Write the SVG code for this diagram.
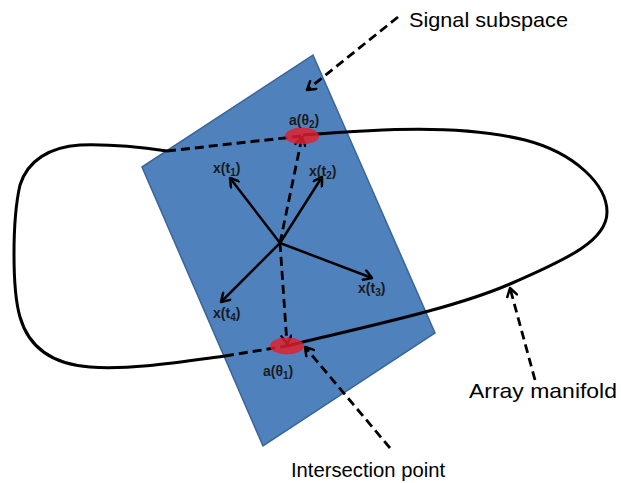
<svg xmlns="http://www.w3.org/2000/svg" width="621" height="483" viewBox="0 0 621 483">
  <style>
    .plane { fill: #4F81BD; stroke: #3B6597; stroke-width: 1.5; }
    .curve { fill: none; stroke: #000; stroke-width: 3; stroke-linejoin: round; }
    .curve-dash { fill: none; stroke: #000; stroke-width: 3; stroke-dasharray: 9 5; }
    .vec { fill: none; stroke: #000; stroke-width: 2.5; }
    .dash { fill: none; stroke: #000; stroke-width: 2.8; stroke-dasharray: 9 5; }
    .point { fill: #E41E2B; fill-opacity: 0.82; }
    .lbl { font-family: "Liberation Sans", Arial, sans-serif; font-weight: bold; font-size: 14px; fill: #1a1a1a; }
    .sub { font-size: 10px; }
    .big { font-family: "Liberation Sans", Arial, sans-serif; font-size: 21px; fill: #000; }
  </style>
  <defs>
    <marker id="arr" viewBox="0 0 12 12" markerWidth="12" markerHeight="12" refX="10" refY="6" orient="auto" markerUnits="userSpaceOnUse">
      <path d="M2,1 L10,6 L2,11" fill="none" stroke="#000" stroke-width="2.5" stroke-linecap="round" stroke-linejoin="round"/>
    </marker>
  </defs>

  <g id="signal-subspace">
    <polygon class="plane" points="142,167 313,55 435,333 263,446"/>
  </g>

  <g id="array-manifold">
    <path class="curve" d="M303,135 C380,129 460,124 525,140 C575,153 607,185 607,212 C607,240 570,258 510,284 C450,310 350,330 287,346"/>
    <path class="curve" d="M225,356 C180,362 130,370 90,367 C50,364 28,345 20,317 C12,290 12,220 20,185 C28,160 50,147 80,145 C110,144 140,147 167,151"/>
    <path class="curve-dash" d="M167,151 L302,136"/>
    <path class="curve-dash" d="M225,356 L287,346"/>
  </g>

  <g id="connectors">
    <line class="vec" x1="280" y1="243" x2="230" y2="178" marker-end="url(#arr)"/>
    <line class="vec" x1="280" y1="243" x2="322" y2="177" marker-end="url(#arr)"/>
    <line class="vec" x1="280" y1="243" x2="372" y2="278" marker-end="url(#arr)"/>
    <line class="vec" x1="280" y1="243" x2="221" y2="302" marker-end="url(#arr)"/>
    <line class="dash" x1="280" y1="243" x2="302" y2="137" marker-end="url(#arr)"/>
    <line class="dash" x1="280" y1="243" x2="287" y2="344" marker-end="url(#arr)"/>
    <line class="dash" x1="398" y1="17" x2="307" y2="90" marker-end="url(#arr)"/>
    <line class="dash" x1="535" y1="380" x2="510" y2="288" marker-end="url(#arr)"/>
    <line class="dash" x1="390" y1="448" x2="305" y2="347" marker-end="url(#arr)"/>
  </g>

  <g id="point-theta2">
    <ellipse class="point" cx="302" cy="136" rx="17" ry="8.5"/>
    <text class="lbl" x="289" y="125">a(θ<tspan class="sub" dy="3">2</tspan><tspan dy="-3">)</tspan></text>
  </g>
  <g id="point-theta1">
    <ellipse class="point" cx="287" cy="346" rx="17" ry="8.5"/>
    <text class="lbl" x="263" y="376">a(θ<tspan class="sub" dy="3">1</tspan><tspan dy="-3">)</tspan></text>
  </g>

  <g id="vector-labels">
    <text class="lbl" x="213" y="173">x(t<tspan class="sub" dy="3">1</tspan><tspan dy="-3">)</tspan></text>
    <text class="lbl" x="309" y="176">x(t<tspan class="sub" dy="3">2</tspan><tspan dy="-3">)</tspan></text>
    <text class="lbl" x="358" y="293">x(t<tspan class="sub" dy="3">3</tspan><tspan dy="-3">)</tspan></text>
    <text class="lbl" x="213" y="318">x(t<tspan class="sub" dy="3">4</tspan><tspan dy="-3">)</tspan></text>
  </g>

  <g id="label-signal-subspace">
    <text class="big" x="409" y="27" textLength="159" lengthAdjust="spacingAndGlyphs">Signal subspace</text>
  </g>
  <g id="label-array-manifold">
    <text class="big" x="469" y="398" textLength="148" lengthAdjust="spacingAndGlyphs">Array manifold</text>
  </g>
  <g id="label-intersection">
    <text class="big" x="291" y="477" textLength="154" lengthAdjust="spacingAndGlyphs">Intersection point</text>
  </g>
</svg>
